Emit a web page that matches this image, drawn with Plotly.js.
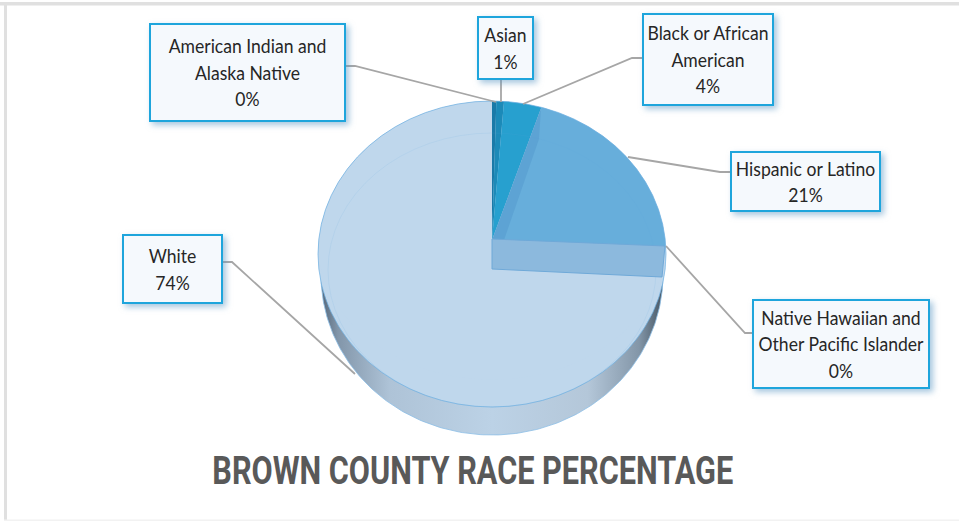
<!DOCTYPE html>
<html><head><meta charset="utf-8">
<script src="https://cdn.plot.ly/plotly-3.0.1.min.js"></script>
<style>html,body{margin:0;padding:0;background:#fff}#c{width:959px;height:521px}</style>
</head><body><div id="c"></div>
<script>
const categories=["American Indian and<br>Alaska Native","Asian","Black or African<br>American","Hispanic or Latino","Native Hawaiian and<br>Other Pacific Islander","White"];
const shares=[0.4,0.7,3.5,21.2,0.1,74.1];
const sliceColors=["#1a7aa8","#1c8ab8","#27a0cf","#67aedb","#8fbbdf","#bfd7ec"];
const chartTitle="BROWN COUNTY RACE PERCENTAGE";
const FONT='Lato,"Liberation Sans",sans-serif';
const TITLE_FONT='Roboto,"Liberation Sans",sans-serif';

// callout boxes: [x0,y0,x1,y1], same order as categories
const boxes=[[150,24,345,121],[478,17,533,79],[643,14,773,105],[731,152,880,211],[753,300,929,388],[123,235,222,303]];
const leaders=["M345,66 L355,66 L496,102","M501,79 L501,102","M643,58 L632,58 L523,104","M731,172 L720,172 L628,157","M753,333 L745,333 L666,246","M222,262 L232,262 L355,374"];

const cx=492,rx=174,apexY=240,topY=101,faceCy=254,faceRy=153;
const sideRx=171,sideCy=275,sideRy=160;
function arc(a0,a1,cy,ex,ey,n){const p=[];for(let i=0;i<=n;i++){const a=a0+(a1-a0)*i/n;p.push([cx+ex*Math.cos(a),cy+ey*Math.sin(a)]);}return p;}
const side=arc(0,Math.PI,sideCy,sideRx,sideRy,180);side.push(side[0]);
const face=arc(0,2*Math.PI,faceCy,rx,faceRy,180);

const traces=[
 {type:"scatter",mode:"lines",x:side.map(p=>p[0]),y:side.map(p=>p[1]),fill:"toself",hoverinfo:"skip",showlegend:false,
  line:{color:"rgba(140,190,230,.8)",width:1},
  fillgradient:{type:"horizontal",colorscale:[[0,"#55677a"],[0.05,"#8296aa"],[0.2,"#aec3d7"],[0.5,"#bcd2e6"],[0.78,"#b4c7d9"],[0.93,"#8396a8"],[1,"#465664"]]}},
 {type:"scatter",mode:"lines",x:face.map(p=>p[0]),y:face.map(p=>p[1]),fill:"toself",fillcolor:sliceColors[5],line:{width:0,color:sliceColors[5]},hoverinfo:"skip",showlegend:false},
 {type:"pie",labels:categories.map(s=>s.replace("<br>"," ")),values:shares,sort:false,direction:"clockwise",rotation:0,
  textinfo:"none",hoverinfo:"label+percent",showlegend:false,marker:{colors:sliceColors,line:{width:0}},
  domain:{x:[(cx-rx-1)/959,(cx+rx+1)/959],y:[(521-apexY-rx-1)/521,(521-apexY+rx+1)/521]}}
];

const shapes=[
 {type:"rect",xref:"x",yref:"y",x0:0,x1:959,y0:2,y1:5.5,fillcolor:"#e0e0e0",line:{width:0},layer:"below"},
 {type:"rect",xref:"x",yref:"y",x0:4,x1:7,y0:2,y1:521,fillcolor:"#e0e0e0",line:{width:0},layer:"below"},
 {type:"rect",xref:"x",yref:"y",x0:4,x1:959,y0:519.5,y1:521,fillcolor:"#f2f2f2",line:{width:0},layer:"below"},
 // inner back edge of the disc, seen through the translucent top
 {type:"circle",xref:"x",yref:"y",x0:328,x1:656,y0:133,y1:407,line:{color:"rgba(90,160,215,.11)",width:1},layer:"above"},
 // inner walls of the cut-out wedge
 {type:"path",xref:"x",yref:"y",path:"M492,240 L541,108 L539,139 L504,240 Z",fillcolor:"rgba(70,140,195,.3)",line:{width:0},layer:"above"},
 {type:"path",xref:"x",yref:"y",path:"M492,239 L665,246 L662,277 L492,269 Z",fillcolor:"#8cb9dd",line:{color:"#6fa9d8",width:1},layer:"above"},
 // rim outline
 {type:"circle",xref:"x",yref:"y",x0:cx-rx,x1:cx+rx,y0:topY,y1:topY+2*faceRy,line:{color:"rgba(110,175,225,.7)",width:1},layer:"above"}
].concat(leaders.map(p=>({type:"path",xref:"x",yref:"y",path:p,line:{color:"#a6a6a6",width:1.8},layer:"above"})));

const annotations=categories.map((c,i)=>{const b=boxes[i];return{
  xref:"x",yref:"y",x:(b[0]+b[2])/2,y:(b[1]+b[3])/2,xanchor:"center",yanchor:"middle",showarrow:false,
  text:c+"<br>"+Math.round(shares[i])+"%",width:b[2]-b[0]-2,height:b[3]-b[1]-2,borderpad:0,
  bgcolor:"#f5f9fd",bordercolor:"#1ea5dc",borderwidth:2,font:{family:FONT,size:19,color:"#262626"},align:"center",valign:"middle"};});
annotations.push({xref:"x",yref:"y",x:472.5,y:471,xanchor:"center",yanchor:"middle",showarrow:false,text:"<b>"+chartTitle+"</b>",
  font:{family:TITLE_FONT,size:38,color:"#595959"}});

const layout={width:959,height:521,margin:{l:0,r:0,t:0,b:0},paper_bgcolor:"#fff",plot_bgcolor:"#fff",showlegend:false,
  xaxis:{range:[0,959],visible:false,fixedrange:true},yaxis:{range:[521,0],visible:false,fixedrange:true},
  shapes,annotations};

const gd=document.getElementById("c");
const TITLE_WIDTH=521, LINE_PX=26.5, LABEL_SQUEEZE=0.925;
function squeeze(t,k,dy){
  t.removeAttribute("clip-path");t.style.clipPath="none";
  const b=t.getBBox();const mid=b.x+b.width/2;
  t.setAttribute("transform","translate("+mid+","+dy+") scale("+k+",1) translate("+(-mid)+",0)");
}
function finish(){
  const svg=gd.querySelector(".main-svg");
  const pl=gd.querySelector(".pielayer");
  const NS="http://www.w3.org/2000/svg";
  const s=(apexY-topY)/rx;
  pl.setAttribute("transform","translate(0,"+apexY+") scale(1,"+s+") translate(0,"+(-apexY)+")");
  const cp=document.createElementNS(NS,"clipPath");cp.setAttribute("id","faceclip");
  const e=document.createElementNS(NS,"ellipse");
  e.setAttribute("cx",cx);e.setAttribute("cy",faceCy);e.setAttribute("rx",rx);e.setAttribute("ry",faceRy);
  cp.appendChild(e);svg.querySelector("defs").appendChild(cp);
  const g=document.createElementNS(NS,"g");g.setAttribute("clip-path","url(#faceclip)");
  pl.parentNode.insertBefore(g,pl);g.appendChild(pl);

  gd.querySelectorAll(".annotation").forEach((a,i)=>{
    const t=a.querySelector("text");
    if(i<categories.length){
      const bg=a.querySelector("rect.bg");
      if(bg)bg.style.filter="drop-shadow(3px 3px 3px rgba(90,150,195,.55))";
      const lines=t.querySelectorAll("tspan.line");
      lines.forEach((l,k)=>{l.setAttribute("dy",(k*LINE_PX)+"px");});
      squeeze(t,LABEL_SQUEEZE,-(lines.length-1)*(LINE_PX-19*1.3)/2);
    }else{
      squeeze(t,TITLE_WIDTH/t.getBBox().width,0);
    }
  });
}
Plotly.newPlot(gd,traces,layout,{displayModeBar:false,responsive:false}).then(finish);
</script>
</body></html>
